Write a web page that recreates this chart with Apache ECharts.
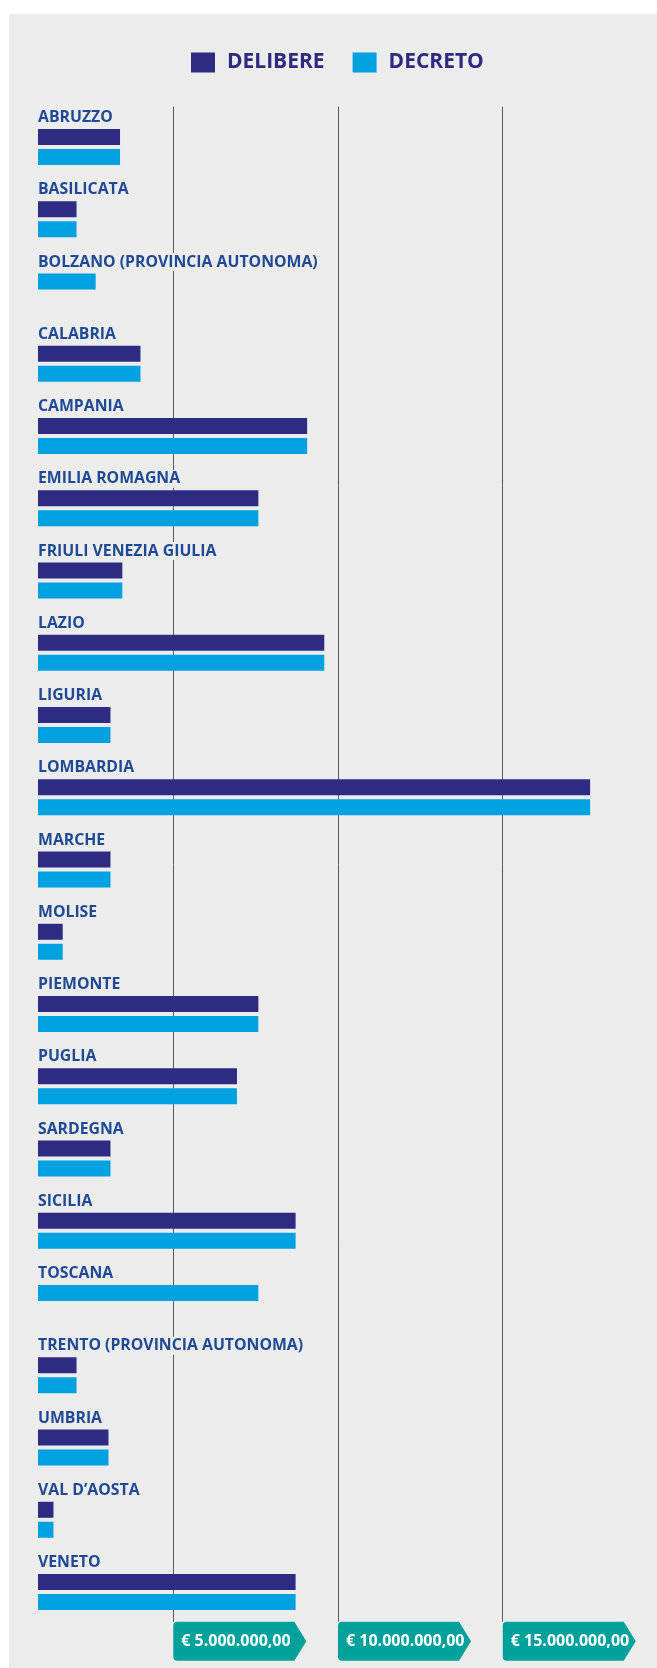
<!DOCTYPE html>
<html>
<head>
<meta charset="utf-8">
<script src="https://cdn.jsdelivr.net/npm/echarts@6/dist/echarts.min.js"></script>
<style>
  html, body { margin: 0; padding: 0; background: #ffffff; }
  #chart { width: 657px; height: 1668px; }
</style>
</head>
<body>
<div id="chart"></div>
<script>
// regioni (dall'alto verso il basso)
var regions = [
  'ABRUZZO', 'BASILICATA', 'BOLZANO (PROVINCIA AUTONOMA)', 'CALABRIA', 'CAMPANIA',
  'EMILIA ROMAGNA', 'FRIULI VENEZIA GIULIA', 'LAZIO', 'LIGURIA', 'LOMBARDIA',
  'MARCHE', 'MOLISE', 'PIEMONTE', 'PUGLIA', 'SARDEGNA', 'SICILIA', 'TOSCANA',
  'TRENTO (PROVINCIA AUTONOMA)', 'UMBRIA', 'VAL D\u2019AOSTA', 'VENETO'
]
// importi in euro
var delibere = [
  2490000, 1170000, null, 3110000, 8170000,
  6690000, 2560000, 8690000, 2200000, 16760000,
  2200000, 750000, 6690000, 6040000, 2200000, 7820000, null,
  1170000, 2140000, 470000, 7820000
]
var decreto = [
  2490000, 1170000, 1750000, 3110000, 8170000,
  6690000, 2560000, 8690000, 2200000, 16760000,
  2200000, 750000, 6690000, 6040000, 2200000, 7820000, 6690000,
  1170000, 2140000, 470000, 7820000
]
var tickValues = [5000000, 10000000, 15000000]
var tickLabels = ['€ 5.000.000,00', '€ 10.000.000,00', '€ 15.000.000,00']

var chartDom = document.getElementById('chart')
var myChart = echarts.init(chartDom)
var option

var axisMax = 19000000
var gridRight = 22.5
var lineLeft = 8.6
var barLeft = 38
var pxPerEuro = (657 - lineLeft - gridRight) / axisMax
var barMax = (657 - barLeft - gridRight) / pxPerEuro

// decreto senza delibera va nella prima posizione della riga
var decretoSolo = decreto.map(function (v, i) { return delibere[i] == null ? v : null })
var decretoPair = decreto.map(function (v, i) { return delibere[i] == null ? null : v })

var nameLabel = {
  show: true,
  formatter: function (p) { return p.name },
  position: [0, -11.5],
  align: 'left',
  verticalAlign: 'middle',
  fontFamily: 'Open Sans',
  fontWeight: 'bold',
  fontSize: 15.8,
  color: '#1f4996',
  backgroundColor: '#ececec',
  padding: [1, 4, 1, 0]
}

option = {
  animation: false,
  graphic: [
    {
      type: 'rect',
      z: -10,
      silent: true,
      shape: { x: 9, y: 14, width: 648, height: 1654 },
      style: { fill: '#ececec' }
    }
  ],
  legend: {
    data: ['DELIBERE', 'DECRETO'],
    left: 191,
    top: 52,
    padding: 0,
    icon: 'rect',
    itemWidth: 24,
    itemHeight: 20,
    itemGap: 28,
    selectedMode: false,
    textStyle: {
      fontFamily: 'Open Sans',
      fontWeight: 'bold',
      fontSize: 21,
      color: '#2d2a80',
      padding: [0, 0, 0, 7]
    }
  },
  grid: [
    { left: lineLeft, right: gridRight, top: 106.7, height: 1515 },
    { left: barLeft, right: gridRight, top: 110.9, height: 1517.25 },
    { left: lineLeft, right: gridRight, top: 1621.7, height: 39 }
  ],
  xAxis: [
    {
      gridIndex: 0,
      type: 'value',
      min: 0,
      max: axisMax,
      interval: 5000000,
      axisLine: { show: false },
      axisTick: { show: false },
      axisLabel: { show: false },
      splitLine: {
        show: true,
        showMinLine: false,
        showMaxLine: false,
        lineStyle: { color: '#5a5a5a', width: 1 }
      }
    },
    { gridIndex: 1, type: 'value', min: 0, max: barMax, show: false },
    { gridIndex: 2, type: 'value', min: 0, max: axisMax, show: false }
  ],
  yAxis: [
    { gridIndex: 0, type: 'value', show: false },
    { gridIndex: 1, type: 'category', data: regions, inverse: true, show: false },
    { gridIndex: 2, type: 'value', min: -1, max: 1, show: false }
  ],
  series: [
    {
      name: 'DELIBERE',
      type: 'bar',
      xAxisIndex: 1,
      yAxisIndex: 1,
      stack: 'a',
      barWidth: 16,
      barGap: '25%',
      data: delibere,
      itemStyle: { color: '#2e2b82' },
      label: nameLabel,
      z: 3
    },
    {
      name: 'DECRETO',
      type: 'bar',
      xAxisIndex: 1,
      yAxisIndex: 1,
      stack: 'a',
      barWidth: 16,
      barGap: '25%',
      data: decretoSolo,
      itemStyle: { color: '#00a1e1' },
      label: nameLabel,
      z: 3
    },
    {
      name: 'DECRETO',
      type: 'bar',
      xAxisIndex: 1,
      yAxisIndex: 1,
      stack: 'b',
      barWidth: 16,
      barGap: '25%',
      data: decretoPair,
      itemStyle: { color: '#00a1e1' },
      z: 3
    },
    {
      // etichette dell'asse a forma di cartellino
      type: 'scatter',
      xAxisIndex: 2,
      yAxisIndex: 2,
      silent: true,
      data: tickValues.map(function (v, i) { return { value: [v, 0], name: tickLabels[i] } }),
      symbol: 'path://M4,0 L121,0 L133,19.5 L121,39 L4,39 Q0,39 0,35 L0,4 Q0,0 4,0 Z',
      symbolSize: [133, 39],
      symbolOffset: [66.5, 0],
      itemStyle: { color: '#00a19a', opacity: 1 },
      label: {
        show: true,
        position: 'insideLeft',
        distance: 8,
        formatter: function (p) { return p.name },
        color: '#ffffff',
        fontFamily: 'Open Sans',
        fontWeight: 'bold',
        fontSize: 16
      },
      z: 5
    }
  ]
}

option && myChart.setOption(option)
</script>
</body>
</html>
